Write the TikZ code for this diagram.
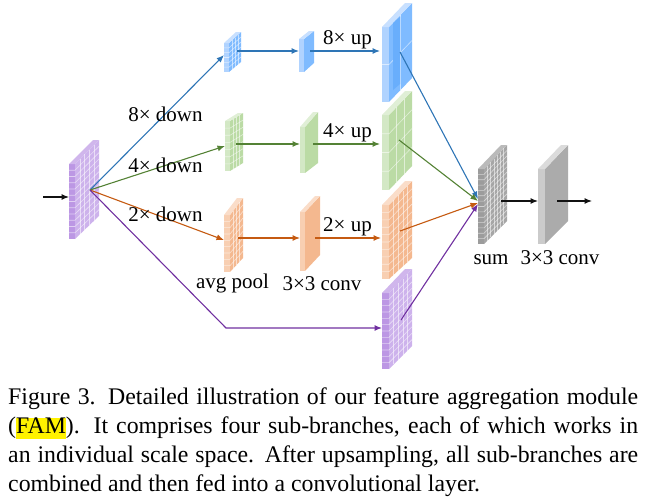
\documentclass[tikz,border=0pt]{standalone}
\usepackage{fontspec}
\setmainfont{Liberation Serif}
\usetikzlibrary{arrows.meta}
\definecolor{violetface}{HTML}{CDB2EC}
\definecolor{violetedge}{HTML}{BC97E4}
\definecolor{violetline}{HTML}{7030A0}
\definecolor{blueface}{HTML}{7FBBFF}
\definecolor{blueedge}{HTML}{B0D3FF}
\definecolor{bluedeep}{HTML}{69AEFC}
\definecolor{blueline}{HTML}{2E75B6}
\definecolor{greenface}{HTML}{BBDBA5}
\definecolor{greenedge}{HTML}{D3E8C5}
\definecolor{greenline}{HTML}{548235}
\definecolor{orangeface}{HTML}{F4B88F}
\definecolor{orangeedge}{HTML}{F8CFB2}
\definecolor{orangeline}{HTML}{C55A11}
\definecolor{grayface}{HTML}{ABABAB}
\definecolor{grayedge}{HTML}{CBCBCB}
\definecolor{graysumface}{HTML}{A6A6A6}
\definecolor{graysumedge}{HTML}{9C9C9C}
\definecolor{darkline}{HTML}{111111}

\begin{document}
\begin{tikzpicture}[x=1pt, y=-1pt, >={Latex[length=7.5pt,width=6pt]},
    flow/.style={->, line width=1.1pt},
    gridline/.style={white, opacity=0.55, line width=0.6pt},
    lbl/.style={anchor=base, inner sep=0pt, font=\fontsize{21}{24}\selectfont},
    captext/.style={anchor=north west, inner sep=0pt, text width=630pt, align=justify,
                font=\fontsize{23.8}{28.8}\selectfont}]

    \useasboundingbox (0,0) rectangle (646,496);

    % feature blocks
    \foreach \n/\xa/\xb/\ya/\yb/\xc/\yc/\yd/\rows/\cols/\tone in {
        fin/69/75/164/239/99/140/216/12/5/violet,
        bdown/224/229/43/72/241/32/62/6/4/blue,
        bconv/299/304/39/72/314/31/63/1/1/blue,
        bup/382/389/27/102/412/3/78/2/2/blue,
        gdown/225/230/121/171/243/113/163/7/4/green,
        gconv/300/305/127/173/318/112/163/1/1/green,
        gup/382/389/115/190/412/91/166/4/3/green,
        odown/224/230/215/272/243/198/258/9/4/orange,
        oconv/300/305/212/271/320/196/255/1/1/orange,
        oup/382/389/205/279/412/181/258/10/5/orange,
        pup/382/389/293/369/412/269/346/12/5/violet,
        fsum/478/484/169/244/507/145/221/14/7/graysum,
        fconv/538/545/169/244/568/145/221/1/1/gray} {
      \fill[\tone face] (\xb,\ya) -- (\xc,\yc) -- (\xc,\yd) -- (\xb,\yb) -- cycle;
      \fill[\tone edge] (\xa,\ya) -- (\xb,\ya) -- (\xb,\yb) -- (\xa,\yb) -- cycle;
      \fill[\tone edge!70!white] (\xa,\ya) -- (\xb,\ya) -- (\xc,\yc) -- (\xc-\xb+\xa,\yc) -- cycle;
      \coordinate (\n) at ({(\xb+\xc)/2},{(\ya+\yd)/2});
      \ifnum\rows>1
        \pgfmathtruncatemacro{\lastrow}{\rows-1}
        \foreach \i in {1,...,\lastrow} {
          \pgfmathsetmacro{\t}{\i/\rows}
          \draw[gridline]
            (\xa,{\ya+(\yb-\ya)*\t}) -- (\xb,{\ya+(\yb-\ya)*\t}) -- (\xc,{\yc+(\yd-\yc)*\t});
        }
      \fi
      \ifnum\cols>1
        \pgfmathtruncatemacro{\lastcol}{\cols-1}
        \foreach \i in {1,...,\lastcol} {
          \pgfmathsetmacro{\t}{\i/\cols}
          \draw[gridline]
            ({\xb+(\xc-\xb)*\t},{\ya+(\yc-\ya)*\t}) -- ({\xb+(\xc-\xb)*\t},{\yb+(\yd-\yb)*\t});
        }
      \fi
    }
    \fill[bluedeep] (393,23) -- (400,17) -- (400,84) -- (393,90) -- cycle;

    % arrow ends
    \coordinate (start)  at (43,197);
    \coordinate (inedge) at (69,197);
    \coordinate (hub)    at (90,190);
    \coordinate (bl1) at (224,55);
    \coordinate (gl1) at (225,146);
    \coordinate (ol1) at (224,240);
    \coordinate (knee) at (226,328);
    \coordinate (pl1) at (382,328);
    \coordinate (bo1) at (237,51);
    \coordinate (bl2) at (299,51);
    \coordinate (go1) at (236,144);
    \coordinate (gl2) at (300,144);
    \coordinate (oo1) at (238,238);
    \coordinate (ol2) at (300,238);
    \coordinate (bo2) at (310,51);
    \coordinate (bl3) at (380,51);
    \coordinate (go2) at (313,144);
    \coordinate (gl3) at (380,144);
    \coordinate (oo2) at (315,238);
    \coordinate (ol3) at (381,238);
    \coordinate (bo3) at (400,52);
    \coordinate (go3) at (399,140);
    \coordinate (oo3) at (400,231);
    \coordinate (po3) at (401,320);
    \coordinate (sumb) at (478,199);
    \coordinate (sumg) at (478,201);
    \coordinate (sumo) at (478,203);
    \coordinate (sump) at (478,204);
    \coordinate (sumo2) at (501,201);
    \coordinate (convi) at (538,201);
    \coordinate (convo) at (557,201);
    \coordinate (stop)  at (592,201);

    \foreach \a/\b/\c in {hub/bl1/blueline, bo1/bl2/blueline, bo2/bl3/blueline, bo3/sumb/blueline,
        hub/gl1/greenline, go1/gl2/greenline, go2/gl3/greenline, go3/sumg/greenline,
        hub/ol1/orangeline, oo1/ol2/orangeline, oo2/ol3/orangeline, oo3/sumo/orangeline,
        po3/sump/violetline, start/inedge/darkline, sumo2/convi/darkline, convo/stop/darkline}
      \draw[flow, \c] (\a) -- (\b);
    \draw[flow, violetline] (hub) -- (knee) -- (pl1);

    % labels
    \node[lbl] (ldown8) at (165.5,121) {8× down};
    \node[lbl] (ldown4) at (165.5,172) {4× down};
    \node[lbl] (ldown2) at (165.5,221) {2× down};
    \node[lbl] (lpool)  at (232.5,288) {avg pool};
    \node[lbl] (lconv)  at (322,290)   {3×3 conv};
    \node[lbl] (lup8)   at (347.5,44)  {8× up};
    \node[lbl] (lup4)   at (347.5,137) {4× up};
    \node[lbl] (lup2)   at (347.5,231) {2× up};
    \node[lbl] (lsum)   at (491,264)   {sum};
    \node[lbl] (lout)   at (560,264)   {3×3 conv};

    % caption
    \setlength{\fboxsep}{0pt}
    \node[captext] (caption) at (8,388) {Figure 3. Detailed illustration of our feature aggregation module\linebreak
      (\colorbox{yellow}{\rule[-5pt]{0pt}{21pt}FAM}). It comprises four sub-branches, each of which works in\linebreak
      an individual scale space. After upsampling, all sub-branches are\linebreak
      combined and then fed into a convolutional layer.};
\end{tikzpicture}
\end{document}
